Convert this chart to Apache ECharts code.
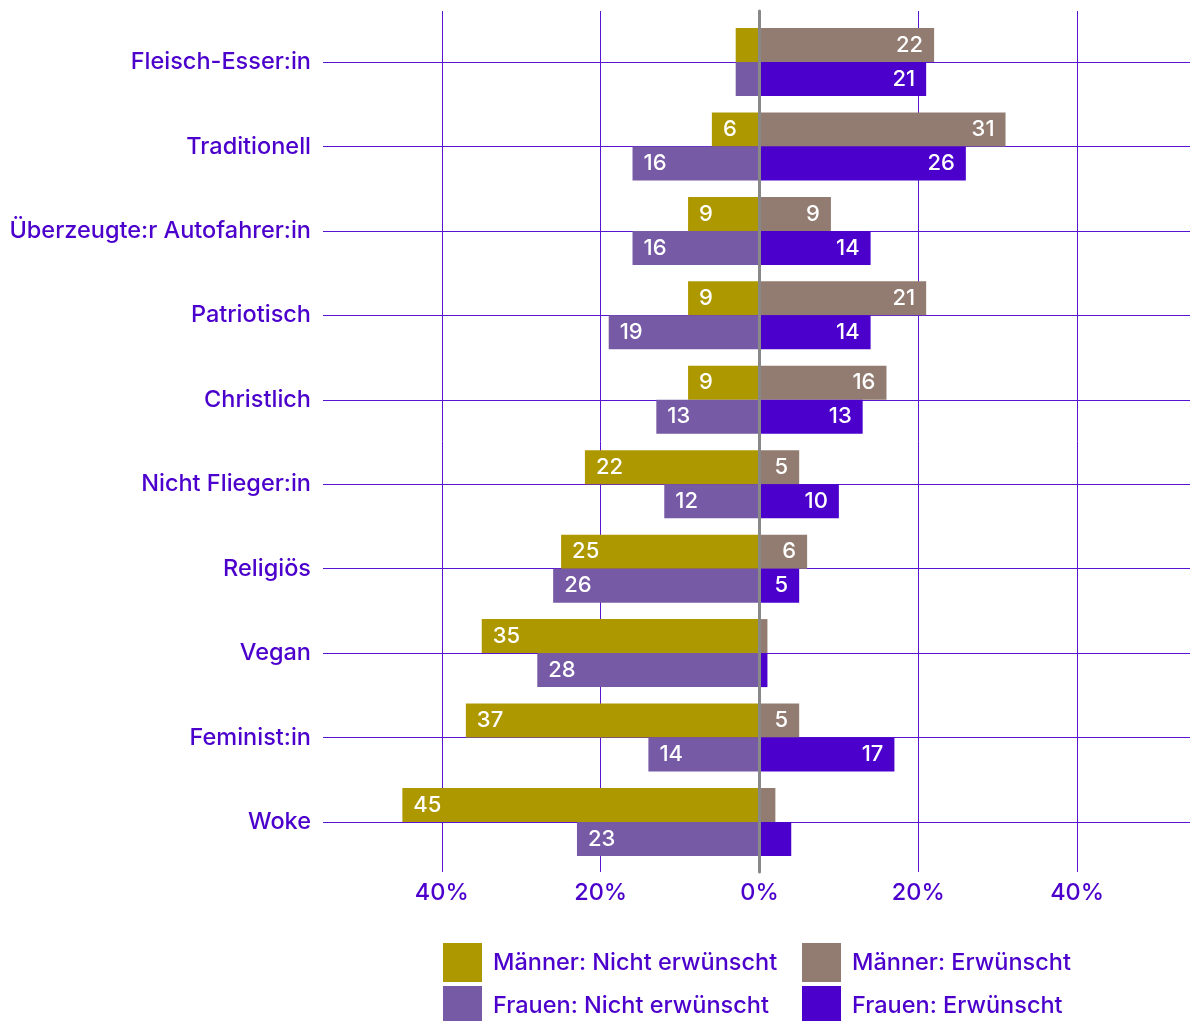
<!DOCTYPE html>
<html><head><meta charset="utf-8">
<script src="https://cdn.jsdelivr.net/npm/echarts@6/dist/echarts.min.js"></script>
<style>html,body{margin:0;padding:0;background:#fff}#c{width:1190px;height:1021px}</style>
</head><body><div id="c"></div>
<script>
const categories = ['Fleisch-Esser:in','Traditionell','Überzeugte:r Autofahrer:in','Patriotisch','Christlich','Nicht Flieger:in','Religiös','Vegan','Feminist:in','Woke'];
const maennerNichtErwuenscht = [3, 6, 9, 9, 9, 22, 25, 35, 37, 45];
const maennerErwuenscht      = [22, 31, 9, 21, 16, 5, 6, 1, 5, 2];
const frauenNichtErwuenscht  = [3, 16, 16, 19, 13, 12, 26, 28, 14, 23];
const frauenErwuenscht       = [21, 26, 14, 14, 13, 10, 5, 1, 17, 4];
const seriesNames = ['Männer: Nicht erwünscht','Männer: Erwünscht','Frauen: Nicht erwünscht','Frauen: Erwünscht'];
const colors = ['#ae9800','#927c72','#775aa5','#4b00cc'];

const TEXT = '#4b00cc';
const GRIDC = '#5a14d4';
const FONT = 'Inter';

const labelFmt = p => Math.abs(p.value) >= 5 ? String(Math.abs(p.value)) : '';
function barSeries(name, data, stack, color, negative) {
  return {
    name, type: 'bar', stack, xAxisIndex: 0, yAxisIndex: 0,
    data: data.map(v => negative ? -v : v),
    barWidth: 34, barGap: '0%', z: 2,
    itemStyle: { color },
    label: {
      show: true, position: negative ? 'insideLeft' : 'insideRight', distance: 11,
      color: '#fff', fontSize: 22, fontFamily: FONT, fontWeight: 500,
      formatter: labelFmt
    }
  };
}
const series = [
  barSeries(seriesNames[0], maennerNichtErwuenscht, 'm', colors[0], true),
  barSeries(seriesNames[1], maennerErwuenscht, 'm', colors[1], false),
  barSeries(seriesNames[2], frauenNichtErwuenscht, 'f', colors[2], true),
  barSeries(seriesNames[3], frauenErwuenscht, 'f', colors[3], false),
  {
    name: 'gridlines', type: 'line', xAxisIndex: 0, yAxisIndex: 0, data: [], showSymbol: false, z: 1,
    markLine: {
      z: 1, silent: true, symbol: ['none','none'], animation: false,
      label: { show: false },
      lineStyle: { color: GRIDC, width: 1, type: 'solid' },
      data: categories.map(c => ({ yAxis: c }))
    }
  }
];

const legendBase = {
  orient: 'vertical', itemWidth: 39, itemHeight: 39, itemGap: 4, icon: 'rect',
  selectedMode: false, padding: 0,
  textStyle: { color: TEXT, fontSize: 23.5, fontFamily: FONT, fontWeight: 500, padding: [0,0,0,6] }
};
const legendPos = [[443, 943], [802, 943], [443, 986], [802, 986]];

const option = {
  animation: false,
  backgroundColor: '#fff',
  grid: [
    { left: 323, width: 873, top: 19.8, height: 844.4, outerBoundsMode: 'none', containLabel: false },
    { left: 283, width: 953, top: 11, height: 861, outerBoundsMode: 'none', containLabel: false }
  ],
  xAxis: [
    { type: 'value', gridIndex: 0, min: -55, max: 55, show: false },
    { type: 'value', gridIndex: 1, min: -60, max: 60, interval: 20,
      axisLine: { show: false }, axisTick: { show: false },
      splitLine: { show: true, showMinLine: false, showMaxLine: false, lineStyle: { color: GRIDC, width: 1 } },
      axisLabel: { showMinLabel: false, showMaxLabel: false, color: TEXT, fontSize: 23.5, fontFamily: FONT, fontWeight: 500, margin: 9,
        formatter: v => Math.abs(v) + '%' } }
  ],
  yAxis: [
    { type: 'category', gridIndex: 0, data: categories, inverse: true,
      axisLine: { show: false }, axisTick: { show: false }, splitLine: { show: false },
      axisLabel: { color: TEXT, fontSize: 23.5, fontFamily: FONT, fontWeight: 500, margin: 12 } },
    { type: 'value', gridIndex: 1, min: 0, max: 1, z: 10,
      axisLine: { show: true, onZero: true, lineStyle: { color: '#888888', width: 3 } },
      axisTick: { show: false }, axisLabel: { show: false }, splitLine: { show: false } }
  ],
  legend: seriesNames.map((n, i) => Object.assign({}, legendBase, {
    left: legendPos[i][0], top: legendPos[i][1], data: [n]
  })),
  series
};
const chart = echarts.init(document.getElementById('c'));
chart.setOption(option);
</script>
</body></html>
